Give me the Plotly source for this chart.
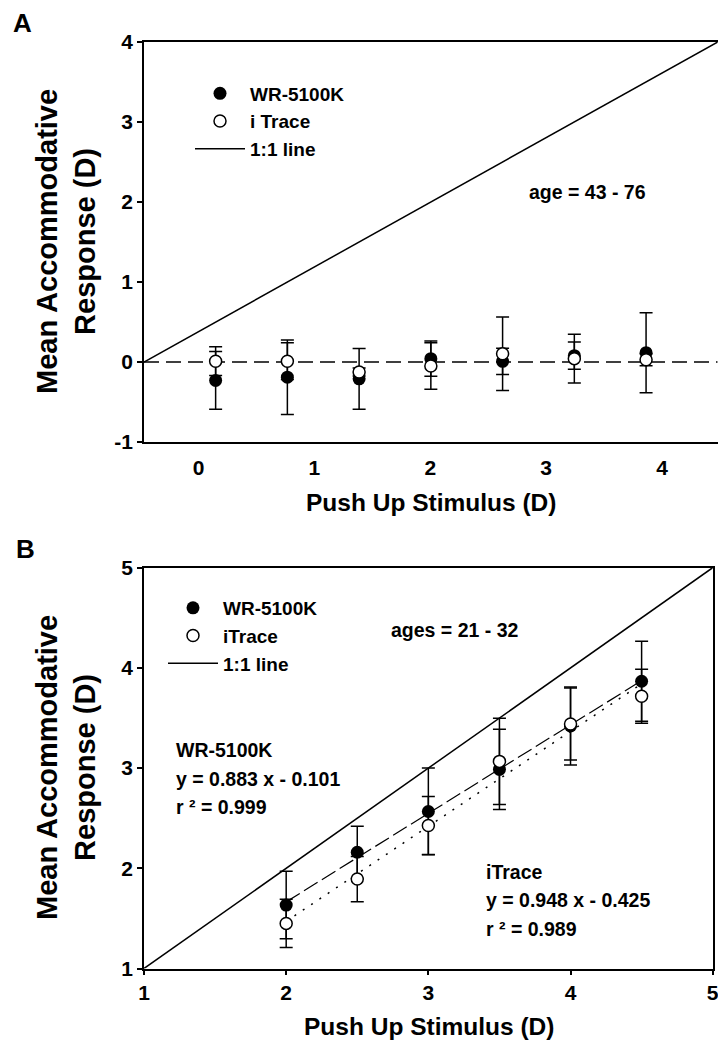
import plotly.graph_objects as go

FONT = "Liberation Sans, Arial, Helvetica, sans-serif"

# ---------------- Panel A data ----------------
a_x = [0.148, 0.767, 1.386, 2.005, 2.624, 3.243, 3.862]
a_wr = [-0.23, -0.19, -0.21, 0.042, 0.008, 0.079, 0.117]
a_wr_err = [0.36, 0.465, 0.38, 0.22, 0.165, 0.17, 0.50]
a_it = [0.01, 0.01, -0.125, -0.05, 0.104, 0.042, 0.029]
a_it_err = [0.18, 0.23, 0.05, 0.29, 0.46, 0.305, 0.075]
a_xrange = [-0.47, 4.48]
a_yrange = [-1, 4]
a_xlabels = [0, 1, 2, 3, 4]
a_xtickmarks = [-0.47, 0.767, 2.005, 3.243, 4.48]
a_yticks = [-1, 0, 1, 2, 3, 4]
a_unity_x = [-0.47, 4.48]
a_unity_y = [0, 4]
a_zero_x = [-0.47, 4.48]
a_zero_y = [0, 0]

# ---------------- Panel B data ----------------
b_x = [2, 2.5, 3, 3.5, 4, 4.5]
b_wr = [1.633, 2.16, 2.567, 2.987, 3.42, 3.867]
b_wr_err = [0.337, 0.26, 0.433, 0.40, 0.39, 0.40]
b_it = [1.45, 1.893, 2.427, 3.067, 3.44, 3.717]
b_it_err = [0.24, 0.226, 0.29, 0.43, 0.36, 0.27]
b_fit_x = [2, 4.5]
b_wr_fit = [1.665, 3.873]
b_it_fit = [1.471, 3.841]
b_unity = [1, 5]
b_ticks = [1, 2, 3, 4, 5]

# page body has an 8px margin; figure sized so the page fits the 726x1050 window
OFF = 8
W, H = 726 - 2 * OFF, 1050 - 2 * OFF


def px(v):
    return (v - OFF) / W


def py(v):
    return 1 - (v - OFF) / H


fig = go.Figure()

err_style = dict(type="data", visible=True, color="black", thickness=1.5, width=6.5)
filled = dict(symbol="circle", size=13, color="black", line=dict(width=0))
hollow = dict(symbol="circle", size=12, color="white", line=dict(color="black", width=1.5))

# ---- Panel A traces ----
fig.add_trace(go.Scatter(x=a_unity_x, y=a_unity_y, mode="lines", name="1:1 line",
                         line=dict(color="black", width=1.5), xaxis="x", yaxis="y",
                         legend="legend", legendrank=3))
fig.add_trace(go.Scatter(x=a_zero_x, y=a_zero_y, mode="lines", showlegend=False,
                         line=dict(color="black", width=1.5, dash="15px,7px"),
                         xaxis="x", yaxis="y"))
fig.add_trace(go.Scatter(x=a_x, y=a_wr, mode="markers", name="WR-5100K",
                         marker=filled, error_y=dict(array=a_wr_err, **err_style),
                         xaxis="x", yaxis="y", legend="legend", legendrank=1))
fig.add_trace(go.Scatter(x=a_x, y=a_it, mode="markers", name="i Trace",
                         marker=hollow, error_y=dict(array=a_it_err, **err_style),
                         xaxis="x", yaxis="y", legend="legend", legendrank=2))

# ---- Panel B traces ----
fig.add_trace(go.Scatter(x=b_unity, y=b_unity, mode="lines", name="1:1 line",
                         line=dict(color="black", width=1.5), xaxis="x2", yaxis="y2",
                         legend="legend2", legendrank=3))
fig.add_trace(go.Scatter(x=b_fit_x, y=b_wr_fit, mode="lines", showlegend=False,
                         line=dict(color="black", width=1.2, dash="16px,5px"),
                         xaxis="x2", yaxis="y2"))
fig.add_trace(go.Scatter(x=b_fit_x, y=b_it_fit, mode="lines", showlegend=False,
                         line=dict(color="black", width=1.5, dash="2px,8px"),
                         xaxis="x2", yaxis="y2"))
fig.add_trace(go.Scatter(x=b_x, y=b_wr, mode="markers", name="WR-5100K",
                         marker=filled, error_y=dict(array=b_wr_err, **err_style),
                         xaxis="x2", yaxis="y2", legend="legend2", legendrank=1))
fig.add_trace(go.Scatter(x=b_x, y=b_it, mode="markers", name="iTrace",
                         marker=hollow, error_y=dict(array=b_it_err, **err_style),
                         xaxis="x2", yaxis="y2", legend="legend2", legendrank=2))

tickfont = dict(family=FONT, size=21, color="black", weight="bold")
axis_common = dict(showline=True, mirror=True, linecolor="black", linewidth=1.5,
                   showgrid=False, zeroline=False, tickfont=tickfont, automargin=False,
                   ticklen=5, tickwidth=1.5, tickcolor="black",
                   ticklabeloverflow="allow")

a_xdom = [px(144), px(717.7)]
a_ydom = [py(442), py(42)]
b_xdom = [px(144), px(712.7)]
b_ydom = [py(968.5), py(567.7)]

legend_font = dict(family=FONT, size=19, color="black", weight="bold")

fig.update_layout(
    width=W, height=H,
    margin=dict(l=0, r=0, t=0, b=0, pad=0, autoexpand=False),
    paper_bgcolor="white", plot_bgcolor="white",
    font=dict(family=FONT, color="black"),
    xaxis=dict(domain=a_xdom, anchor="y", range=a_xrange, tickmode="array",
               tickvals=a_xlabels, ticktext=[str(v) for v in a_xlabels], ticks="",
               ticklabelstandoff=6, **axis_common),
    xaxis3=dict(overlaying="x", anchor="y", range=a_xrange, tickmode="array",
                tickvals=a_xtickmarks, ticks="outside", ticklen=5, tickwidth=1.5,
                tickcolor="black", showticklabels=False, showline=False,
                showgrid=False, zeroline=False, automargin=False),
    yaxis=dict(domain=a_ydom, anchor="x", range=a_yrange, tickmode="array",
               tickvals=a_yticks, ticktext=[str(v) for v in a_yticks], ticks="outside",
               **axis_common),
    xaxis2=dict(domain=b_xdom, anchor="y2", range=[1, 5], tickmode="array",
                tickvals=b_ticks, ticktext=[str(v) for v in b_ticks], ticks="outside",
                **axis_common),
    yaxis2=dict(domain=b_ydom, anchor="x2", range=[1, 5], tickmode="array",
                tickvals=b_ticks, ticktext=[str(v) for v in b_ticks], ticks="outside",
                **axis_common),
    legend=dict(x=px(190), y=py(74.5), xanchor="left", yanchor="top",
                bgcolor="rgba(0,0,0,0)", borderwidth=0, itemwidth=50,
                font=legend_font, tracegroupgap=0),
    legend2=dict(x=px(163), y=py(589), xanchor="left", yanchor="top",
                 bgcolor="rgba(0,0,0,0)", borderwidth=0, itemwidth=50,
                 font=legend_font, tracegroupgap=0),
)

bold = dict(family=FONT, color="black", weight="bold")


def note(text, x, y, size, xref="paper", yref="paper", xanchor="center", angle=0):
    return dict(text=text, x=x, y=y, xref=xref, yref=yref, xanchor=xanchor,
                yanchor="middle", showarrow=False, textangle=angle,
                font=dict(size=size, **bold))


ann = []
# panel letters
ann.append(note("A", px(22), py(23), 26))
ann.append(note("B", px(25), py(549), 26))
# axis titles
for yc in (242, 768):
    ann.append(note("Mean Accommodative<br>Response (D)", px(66), py(yc), 29, angle=-90))
ann.append(note("Push Up Stimulus (D)", px(430.5), py(502), 24.5))
ann.append(note("Push Up Stimulus (D)", px(428.5), py(1026), 24.5))
# panel A text
ann.append(note("age = 43 - 76", 3.36, 2.13, 19.5, xref="x", yref="y"))
# panel B text
ann.append(note("ages = 21 - 32", 3.19, 4.38, 19.5, xref="x2", yref="y2"))
for txt, yy in (("WR-5100K", 3.18), ("y = 0.883 x - 0.101", 2.895), ("r \u00b2 = 0.999", 2.61)):
    ann.append(note(txt, 1.21, yy, 19.5, xref="x2", yref="y2", xanchor="left"))
for txt, yy in (("iTrace", 1.965), ("y = 0.948 x - 0.425", 1.688), ("r \u00b2 = 0.989", 1.396)):
    ann.append(note(txt, 3.394, yy, 19.5, xref="x2", yref="y2", xanchor="left"))
fig.update_layout(annotations=ann)

fig.write_html("out.html")
